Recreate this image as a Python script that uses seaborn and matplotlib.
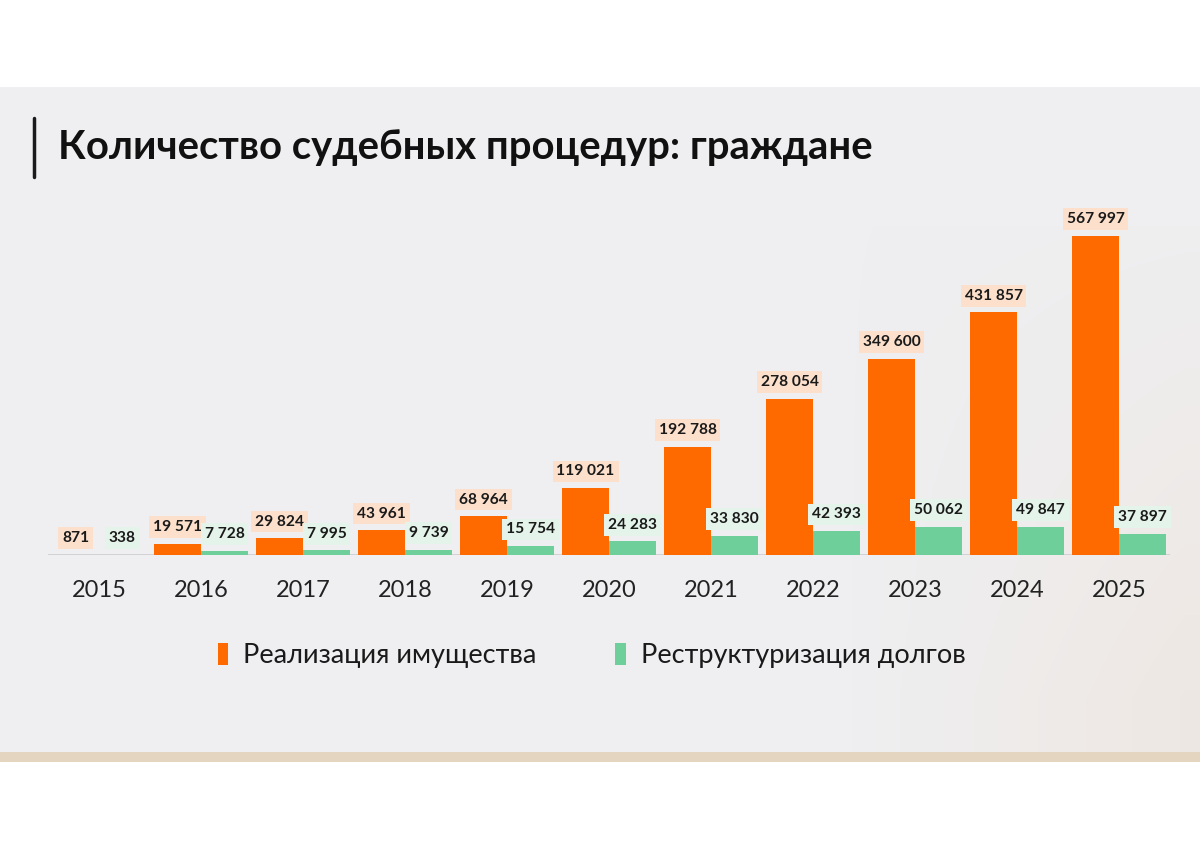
import numpy as np
import pandas as pd
import seaborn as sns
import matplotlib.pyplot as plt
from matplotlib.patches import Rectangle, Patch
from matplotlib.lines import Line2D

years = ["2015", "2016", "2017", "2018", "2019", "2020", "2021", "2022", "2023", "2024", "2025"]
realization = [871, 19571, 29824, 43961, 68964, 119021, 192788, 278054, 349600, 431857, 567997]
restructuring = [338, 7728, 7995, 9739, 15754, 24283, 33830, 42393, 50062, 49847, 37897]
series_names = ["Реализация имущества", "Реструктуризация долгов"]
title = "Количество судебных процедур: граждане"

orange = "#FF6A00"
green = "#6FCF9B"

df = pd.DataFrame({
    "year": years * 2,
    "value": realization + restructuring,
    "series": [series_names[0]] * len(years) + [series_names[1]] * len(years),
})

sns.set_style("white")
plt.rcParams["font.family"] = ["Lato", "DejaVu Sans"]

fig = plt.figure(figsize=(12, 8.49), dpi=100)
fig.patch.set_facecolor("white")

# grey slide panel and tan strip at its foot
fig.patches.append(Rectangle((0, 0.1143), 1, 0.7832, transform=fig.transFigure,
                             facecolor="#EFEFF1", edgecolor="none", zorder=-10))
fig.patches.append(Rectangle((0, 0.1025), 1, 0.0118, transform=fig.transFigure,
                             facecolor="#E4D5C1", edgecolor="none", zorder=-10))

# faint warm tint on the lower right of the slide
bg = fig.add_axes([0.55, 0.1143, 0.45, 0.62], zorder=-5)
gx, gy = np.meshgrid(np.linspace(0, 1, 200), np.linspace(0, 1, 200))
alpha = np.clip((gx - 0.35) * 1.6, 0, 1) * np.clip(1.1 - gy, 0, 1) * 0.55
tint = np.zeros((200, 200, 4))
tint[..., :3] = np.array([0.93, 0.89, 0.85])
tint[..., 3] = alpha
bg.imshow(tint, extent=[0, 1, 0, 1], origin="lower", aspect="auto")
bg.axis("off")

# title with vertical bar
fig.add_artist(Line2D([0.0285, 0.0285], [0.791, 0.861], transform=fig.transFigure,
                      color="#1a1a1a", linewidth=2.5))
fig.text(0.048, 0.826, title, fontsize=28.8, fontweight="bold", color="#111111",
         ha="left", va="center")

ax = fig.add_axes([0.04, 0.3463, 0.935, 0.41])
ax.set_facecolor("none")

sns.barplot(data=df, x="year", y="value", hue="series", palette=[orange, green],
            width=0.92, gap=0, saturation=1, linewidth=0, ax=ax, legend=False)

box_colors = ["#FCE0CC", "#E4F4EA"]
for cont, vals, bc in zip(ax.containers, [realization, restructuring], box_colors):
    labels = [f"{v:,}".replace(",", " ") for v in vals]
    ax.bar_label(cont, labels=labels, padding=7, fontsize=11.2, fontweight="bold",
                 color="#1a1a1a",
                 bbox=dict(boxstyle="square,pad=0.25", facecolor=bc, edgecolor="none"))

ax.set_xlabel("")
ax.set_ylabel("")
ax.set_yticks([])
ax.tick_params(axis="x", length=0, labelsize=17, pad=18, labelcolor="#222222")
for s in ["left", "right", "top", "bottom"]:
    ax.spines[s].set_visible(False)
ax.axhline(0, xmin=0, xmax=1, color="#CDCDD0", linewidth=1.2, zorder=0)
ax.set_xlim(-0.5, 10.5)
ax.set_ylim(0, 567997 * 348 / 319)

handles = [Patch(facecolor=orange, edgecolor="none"), Patch(facecolor=green, edgecolor="none")]
fig.legend(handles, series_names, loc="center", bbox_to_anchor=(0.493, 0.228), ncol=2,
           frameon=False, fontsize=19.5, handlelength=0.4, handleheight=0.9,
           handletextpad=0.55, columnspacing=2.9, labelcolor="#1a1a1a")

fig.savefig("out.png", dpi=100, facecolor=fig.get_facecolor())
